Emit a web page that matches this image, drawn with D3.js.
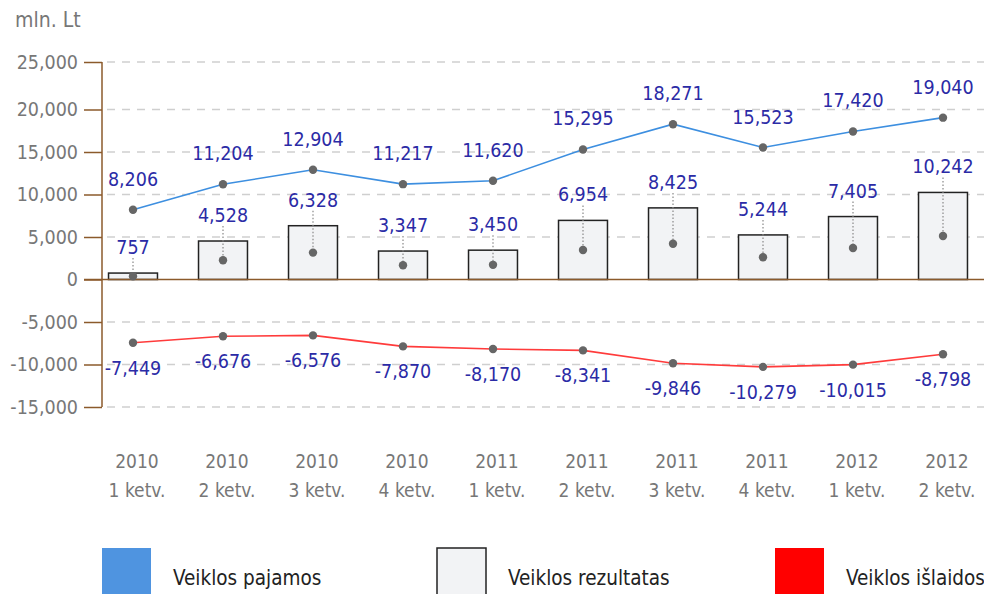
<!doctype html>
<html lang="lt">
<head>
<meta charset="utf-8">
<title>Veiklos pajamos, išlaidos ir rezultatas</title>
<script src="https://d3js.org/d3.v7.min.js"></script>
<style>
  body { margin: 0; background: #fff; }
  svg { display: block; font-family: "DejaVu Sans Condensed", "DejaVu Sans", sans-serif; }
</style>
</head>
<body>
<svg id="chart" width="984" height="594"></svg>
<script>
// data (mln. Lt)
const years    = ["2010", "2010", "2010", "2010", "2011", "2011", "2011", "2011", "2012", "2012"];
const quarters = ["1 ketv.", "2 ketv.", "3 ketv.", "4 ketv.", "1 ketv.", "2 ketv.", "3 ketv.", "4 ketv.", "1 ketv.", "2 ketv."];
const pajamos    = [8206, 11204, 12904, 11217, 11620, 15295, 18271, 15523, 17420, 19040];
const rezultatas = [757, 4528, 6328, 3347, 3450, 6954, 8425, 5244, 7405, 10242];
const islaidos   = [-7449, -6676, -6576, -7870, -8170, -8341, -9846, -10279, -10015, -8798];
const yTicks = [-15000, -10000, -5000, 0, 5000, 10000, 15000, 20000, 25000];
const legendNames = ["Veiklos pajamos", "Veiklos rezultatas", "Veiklos išlaidos"];

const cats = years.map((y, i) => y + " " + quarters[i]);

const fmt = d3.formatLocale({decimal: ".", thousands: ",", grouping: [3], currency: ["", ""], minus: "-"}).format(",");

const svg = d3.select("#chart");

const x = d3.scaleBand().domain(cats).range([88, 988]).paddingInner(0.456).paddingOuter(0.228);
// top interval of the axis is drawn a little taller than the others
const y = d3.scaleLinear().domain([-15000, 20000, 25000]).range([407, 109.5, 62]);
const cx = (d, i) => x(cats[i]) + x.bandwidth() / 2;

// dashed grid
svg.append("g")
  .selectAll("line")
  .data(yTicks.filter(t => t !== 0))
  .join("line")
    .attr("x1", 107).attr("x2", 984)
    .attr("y1", d => y(d)).attr("y2", d => y(d))
    .attr("stroke", "#cfcfcf")
    .attr("stroke-width", 1.5)
    .attr("stroke-dasharray", "8,7");

// y axis
const yAxis = svg.append("g")
  .attr("transform", "translate(102,0)")
  .call(d3.axisLeft(y).tickValues(yTicks).tickSize(18).tickPadding(6).tickFormat(fmt));
yAxis.select(".domain").attr("stroke", "#8b5a2b").attr("stroke-width", 1.5)
  .attr("d", `M0,${y(25000)}V${y(-15000)}`);
yAxis.selectAll(".tick line").attr("stroke", "#8b5a2b").attr("stroke-width", 1.5);
yAxis.selectAll(".tick text").attr("fill", "#777").style("font-size", "19.5px")
  .style("font-family", "'DejaVu Sans Condensed', 'DejaVu Sans', sans-serif");

svg.append("text")
  .attr("x", 15).attr("y", 27)
  .attr("fill", "#777")
  .style("font-size", "21px")
  .text("mln. Lt");

// bars
svg.append("g")
  .selectAll("rect")
  .data(rezultatas)
  .join("rect")
    .attr("x", (d, i) => x(cats[i]))
    .attr("y", d => y(d))
    .attr("width", x.bandwidth())
    .attr("height", d => y(0) - y(d))
    .attr("fill", "#f2f3f5")
    .attr("stroke", "#222")
    .attr("stroke-width", 1.5);

// zero line
svg.append("line")
  .attr("x1", 84).attr("x2", 984)
  .attr("y1", y(0)).attr("y2", y(0))
  .attr("stroke", "#8b5a2b")
  .attr("stroke-width", 1.5);

// lines
const line = d3.line().x(cx).y(d => y(d));
svg.append("path").datum(pajamos).attr("d", line)
  .attr("fill", "none").attr("stroke", "#3d8fe0").attr("stroke-width", 1.6);
svg.append("path").datum(islaidos).attr("d", line)
  .attr("fill", "none").attr("stroke", "#ff3b3b").attr("stroke-width", 1.6);

// dotted leaders for bar labels
svg.append("g")
  .selectAll("line")
  .data(rezultatas)
  .join("line")
    .attr("x1", cx).attr("x2", cx)
    .attr("y1", d => y(d) - 15)
    .attr("y2", d => y(d / 2))
    .attr("stroke", "#888")
    .attr("stroke-width", 1.2)
    .attr("stroke-dasharray", "1.5,2");

// dots
const dotLayer = svg.append("g").attr("fill", "#666");
[pajamos, islaidos].forEach(series => {
  dotLayer.selectAll(null)
    .data(series)
    .join("circle")
      .attr("cx", cx)
      .attr("cy", d => y(d))
      .attr("r", 4.2);
});
dotLayer.selectAll(null)
  .data(rezultatas)
  .join("circle")
    .attr("cx", cx)
    .attr("cy", d => y(d / 2))
    .attr("r", 4.2);

// value labels
function labels(series, dy) {
  svg.append("g")
    .selectAll("text")
    .data(series)
    .join("text")
      .attr("x", cx)
      .attr("y", d => y(d) + dy)
      .attr("text-anchor", "middle")
      .attr("fill", "#2b2ba6")
      .style("font-size", "19.5px")
      .text(d => fmt(d));
}
labels(pajamos, -24);
labels(rezultatas, -19);
labels(islaidos, 32);

// category labels
const xl = svg.append("g").attr("fill", "#777").style("font-size", "19px").attr("text-anchor", "middle");
xl.selectAll(null).data(years).join("text")
  .attr("x", (d, i) => cx(d, i) + 4).attr("y", 468).text(d => d);
xl.selectAll(null).data(quarters).join("text")
  .attr("x", (d, i) => cx(d, i) + 4).attr("y", 497).text(d => d);

// legend
const legendFill = ["#4f94e0", "#f2f3f5", "#ff0000"];
const legendX = [102, 437, 775];
const lg = svg.append("g").selectAll("g").data(legendNames).join("g")
  .attr("transform", (d, i) => `translate(${legendX[i]},548)`);
lg.append("rect")
  .attr("width", 49).attr("height", 50)
  .attr("fill", (d, i) => legendFill[i])
  .attr("stroke", (d, i) => i === 1 ? "#222" : "none")
  .attr("stroke-width", 1.5);
lg.append("text")
  .attr("x", 71).attr("y", 37)
  .attr("fill", "#222")
  .style("font-size", "20.5px")
  .text(d => d);
</script>
</body>
</html>
